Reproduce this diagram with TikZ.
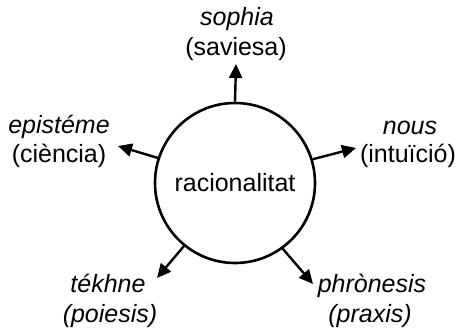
\documentclass[tikz,border=0pt]{standalone}
\usepackage{fontspec}
\setmainfont{Liberation Sans}
\usetikzlibrary{arrows.meta}
\tikzset{
  ring/.style={circle, draw, line width=2.6pt, minimum size=160pt, inner sep=0pt, font=\fontsize{25}{30}\selectfont},
  lbl/.style={anchor=base, inner sep=0pt, font=\fontsize{25}{30}\selectfont},
  il/.style={lbl, font=\fontsize{25}{30}\selectfont\itshape},
  arr/.style={line width=2.4pt, -{Triangle[length=14pt,width=13pt]}}
}
\begin{document}
\begin{tikzpicture}[x=1pt,y=-1pt]
\useasboundingbox (0,0) rectangle (460,331);
\node[ring] (c) at (235,183) {racionalitat};
% labels
\node[il]  (s1) at (237,26)  {sophia};
\node[lbl] (s2) at (236,56)  {(saviesa)};
\node[il]  (e1) at (59,134)  {epistéme};
\node[lbl] (e2) at (59,163)  {(ciència)};
\node[il]  (n1) at (410,135) {nous};
\node[lbl] (n2) at (408,163) {(intuïció)};
\node[il]  (t1) at (108,292) {tékhne};
\node[il]  (t2) at (110,322) {(poiesis)};
\node[il]  (p1) at (372,292) {phrònesis};
\node[il]  (p2) at (370,322) {(praxis)};
% arrow tips
\coordinate (tS) at (236,64);
\coordinate (tE) at (118,146);
\coordinate (tN) at (356,148);
\coordinate (tT) at (157,278);
\coordinate (tP) at (313,284);
\draw[arr] (c.90)  -- (tS);
\draw[arr] (c.162) -- (tE);
\draw[arr] (c.17)  -- (tN);
\draw[arr] (c.231) -- (tT);
\draw[arr] (c.306) -- (tP);
\end{tikzpicture}
\end{document}
